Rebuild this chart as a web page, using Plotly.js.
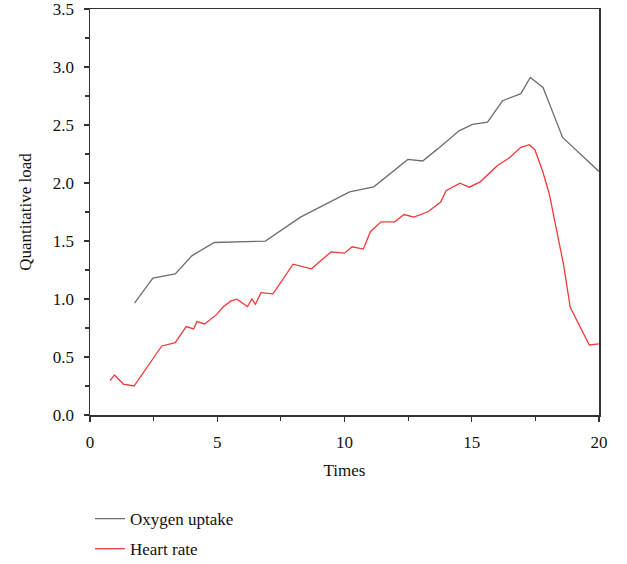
<!DOCTYPE html>
<html><head><meta charset="utf-8">
<script src="https://cdn.plot.ly/plotly-3.0.1.min.js"></script>
<style>html,body{margin:0;padding:0;background:#fff}#c{width:627px;height:564px}</style>
</head><body><div id="c"></div>
<script>
const oxygenX = [1.75, 2.47, 3.35, 4.0, 4.88, 6.89, 8.27, 10.2, 11.15, 12.49, 13.07, 13.65, 14.5, 15.03, 15.62, 16.21, 16.93, 17.3, 17.8, 18.57, 20.0];
const oxygenY = [0.964, 1.18, 1.217, 1.372, 1.487, 1.499, 1.706, 1.924, 1.967, 2.203, 2.19, 2.292, 2.45, 2.505, 2.525, 2.709, 2.77, 2.91, 2.824, 2.393, 2.10];
const heartX = [0.79, 0.96, 1.31, 1.73, 2.82, 3.35, 3.78, 4.07, 4.2, 4.5, 4.96, 5.25, 5.54, 5.77, 6.19, 6.36, 6.5, 6.72, 7.19, 7.98, 8.7, 9.47, 10.0, 10.3, 10.74, 11.02, 11.44, 11.97, 12.34, 12.73, 13.28, 13.78, 13.99, 14.54, 14.9, 15.33, 16.01, 16.47, 16.93, 17.26, 17.48, 17.78, 18.04, 18.61, 18.87, 19.62, 20.0];
const heartY = [0.296, 0.345, 0.267, 0.25, 0.595, 0.624, 0.762, 0.742, 0.805, 0.785, 0.863, 0.935, 0.984, 0.998, 0.935, 1.0, 0.955, 1.055, 1.044, 1.3, 1.26, 1.406, 1.395, 1.45, 1.43, 1.582, 1.665, 1.665, 1.728, 1.706, 1.752, 1.835, 1.933, 1.999, 1.964, 2.01, 2.151, 2.215, 2.307, 2.33, 2.287, 2.105, 1.912, 1.294, 0.929, 0.604, 0.613];
const seriesNames = ["Oxygen uptake", "Heart rate"];

const font = {family: "Liberation Serif, Times New Roman, serif", size: 17, color: "#111"};
const axisCommon = {
  showline: true, mirror: true, linecolor: "#333", linewidth: 1.5,
  ticks: "outside", ticklen: 5, tickwidth: 1.2, tickcolor: "#333",
  showgrid: false, zeroline: false, tickfont: font, ticklabelstandoff: 6,
  ticklabeloverflow: "allow",
};
const traces = [
  {x: oxygenX, y: oxygenY, name: seriesNames[0], mode: "lines", legendgroup: "a",
   line: {color: "#6e6e6e", width: 1.3}},
  {x: heartX, y: heartY, name: seriesNames[1], mode: "lines", legendgroup: "b",
   line: {color: "#f03a3a", width: 1.3}},
];
const layout = {
  width: 627, height: 564,
  margin: {l: 90, r: 28, t: 9, b: 149, autoexpand: false},
  paper_bgcolor: "#fff", plot_bgcolor: "#fff",
  font: font,
  xaxis: Object.assign({}, axisCommon, {
    range: [0, 20], dtick: 5, tick0: 0,
    minor: {ticks: "outside", dtick: 2.5, ticklen: 4, tickcolor: "#333"},
    title: {text: "Times", font: font, standoff: 13},
  }),
  yaxis: Object.assign({}, axisCommon, {
    range: [0, 3.5], dtick: 0.5, tick0: 0, tickformat: ".1f",
    minor: {ticks: "outside", dtick: 0.25, ticklen: 4, tickcolor: "#333"},
    title: {text: "Quantitative load", font: font, standoff: 17},
  }),
  showlegend: true,
  legend: {x: 0, y: -0.212, xanchor: "left", yanchor: "top",
    orientation: "v", font: font, tracegroupgap: 5, bgcolor: "rgba(0,0,0,0)"},
};
Plotly.newPlot("c", traces, layout, {displayModeBar: false, staticPlot: true});
</script></body></html>
